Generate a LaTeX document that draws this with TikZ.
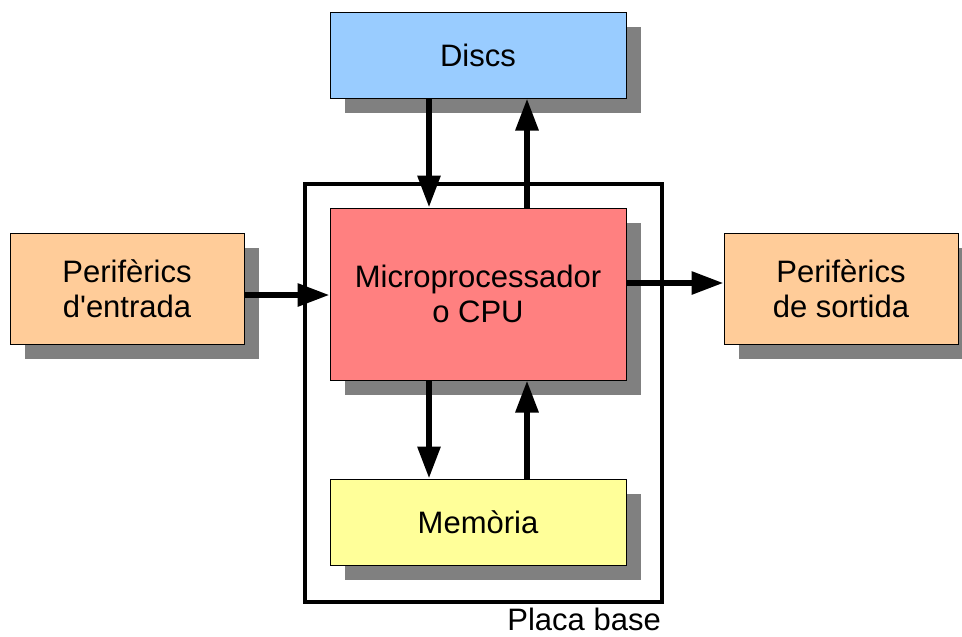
\documentclass[tikz,border=0pt]{standalone}
\usepackage{fontspec}
\setmainfont{Liberation Sans}
\usetikzlibrary{arrows.meta,shadows}
\definecolor{discblue}{HTML}{99CCFF}
\definecolor{cpured}{HTML}{FF8080}
\definecolor{memyellow}{HTML}{FFFF99}
\definecolor{perorange}{HTML}{FFCC99}
\definecolor{shadowgray}{HTML}{808080}
\tikzset{
  box/.style={draw=black, line width=1pt, inner sep=0pt, align=center,
    font=\fontsize{31}{35}\selectfont,
    general shadow={fill=shadowgray, shadow xshift=15pt, shadow yshift=-15pt}},
  arr/.style={line width=6pt, -{Triangle[length=32pt,width=22pt]}},
}
\begin{document}
\begin{tikzpicture}[x=1pt,y=-1pt]
\useasboundingbox (0,0) rectangle (962,637);
\node[draw=black, line width=4pt, minimum width=357pt, minimum height=418pt, inner sep=0pt] (placa) at (483.5,393) {};
\node[anchor=base east, inner sep=0pt, font=\fontsize{31}{35}\selectfont] (placalabel) at (661,630) {Placa base};
\node[box, fill=discblue, minimum width=296pt, minimum height=86pt] (discs) at (478,55) {Discs};
\node[box, fill=cpured, minimum width=296pt, minimum height=172pt] (cpu) at (478,294) {Microprocessador\\o CPU};
\node[box, fill=memyellow, minimum width=296pt, minimum height=86pt] (mem) at (478,522) {Memòria};
\node[box, fill=perorange, minimum width=234pt, minimum height=111pt] (in) at (127,288.5) {Perifèrics\\d\textquotesingle entrada};
\node[box, fill=perorange, minimum width=234pt, minimum height=111pt] (out) at (841,288.5) {Perifèrics\\de sortida};
\coordinate (xl) at (429,0);
\coordinate (xr) at (527,0);
\coordinate (yl) at (0,295);
\coordinate (yr) at (0,283);
\draw[arr] (discs.south -| xl) -- (cpu.north -| xl);
\draw[arr] (cpu.north -| xr) -- (discs.south -| xr);
\draw[arr] (cpu.south -| xl) -- (mem.north -| xl);
\draw[arr] (mem.north -| xr) -- (cpu.south -| xr);
\draw[arr] (in.east |- yl) -- (cpu.west |- yl);
\draw[arr] (cpu.east |- yr) -- (out.west |- yr);
\end{tikzpicture}
\end{document}
